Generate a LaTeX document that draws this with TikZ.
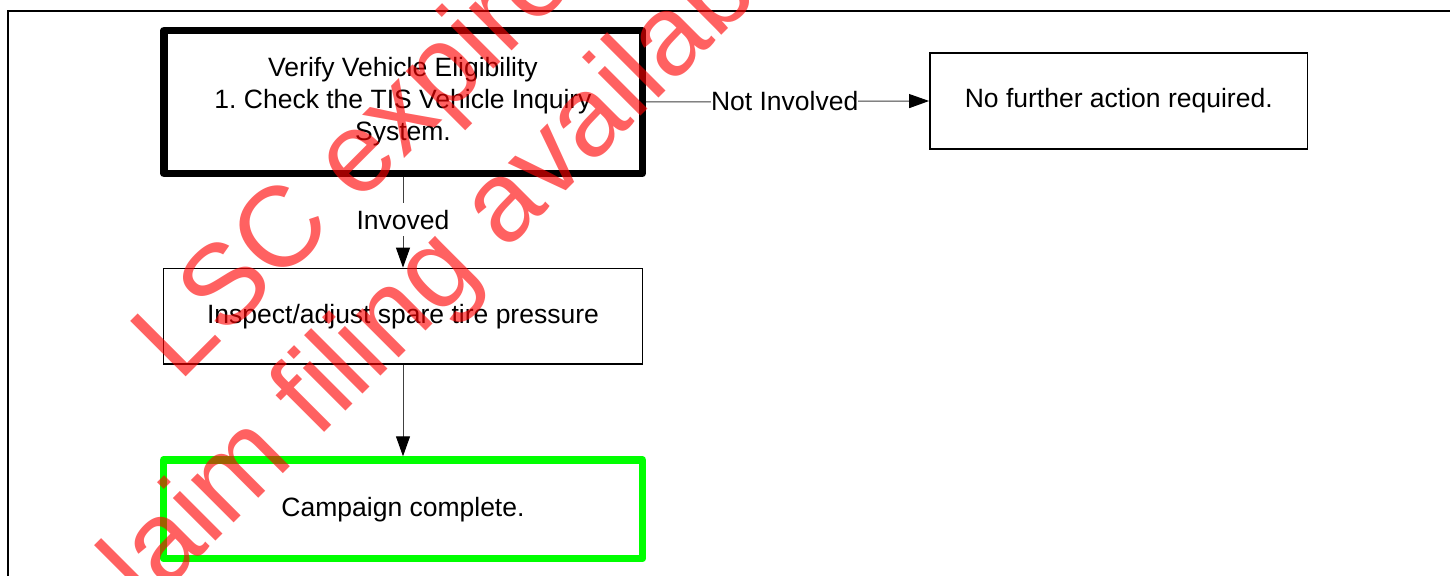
\documentclass[tikz,border=0pt]{standalone}
\usepackage{fontspec}
\setmainfont{Liberation Sans}
\usetikzlibrary{arrows.meta}
\frenchspacing
\definecolor{brightgreen}{RGB}{0,255,0}
\definecolor{wmred}{RGB}{255,0,0}
\tikzset{
  boxbase/.style={draw, rectangle, inner sep=0pt, align=center,
    font=\fontsize{13.25}{16}\selectfont},
  thickbox/.style={boxbase, line width=3.7pt, line join=round},
  plainbox/.style={boxbase, line width=0.9pt},
  conn/.style={draw=black!75, line width=0.5pt,
    -{Triangle[length=10pt,width=7pt,color=black]}},
  lbl/.style={fill=white, inner xsep=0pt, inner ysep=3.5pt,
    font=\fontsize{13.25}{16}\selectfont},
  wm/.style={text=wmred, text opacity=0.62, inner sep=0pt, anchor=base west,
    rotate=45, font=\fontsize{57}{68}\selectfont}
}
\begin{document}
\begin{tikzpicture}[x=0.5pt,y=-0.5pt]
\useasboundingbox (0,0) rectangle (1450,576);
\fill[white] (0,0) rectangle (1450,576);
% outer frame (continues beyond the page)
\draw[line width=1pt] (1470,11) -- (8,11) -- (8,600);

% boxes
\node[thickbox, minimum width=239.2pt, minimum height=71.5pt] (verify) at (403,102)
  {Verify Vehicle Eligibility\\1. Check the TIS Vehicle Inquiry\\System.};
\node[plainbox, minimum width=188.75pt, minimum height=48pt] (nofurther) at (1118.75,101)
  {No further action required.};
\node[plainbox, line width=0.7pt, minimum width=239.5pt, minimum height=47.85pt] (inspect) at (403,316.2)
  {Inspect/adjust spare tire pressure};
\node[thickbox, draw=brightgreen, minimum width=239.5pt, minimum height=49.25pt] (complete) at (403,509.25)
  {Campaign complete.};

% connectors
\draw[conn] (verify.east) -- node[lbl, pos=0.49] (notinv) {Not Involved} (nofurther.west);
\draw[conn] (verify.south) -- node[lbl, pos=0.47] (inv) {Invoved} (inspect.north);
\draw[conn] (inspect.south) -- (complete.north);

% watermark
\node[wm] (wmone) at (179,384) {LSC expired};
\node[wm] (wmtwo) at (107,650) {claim filing available};
\end{tikzpicture}
\end{document}
